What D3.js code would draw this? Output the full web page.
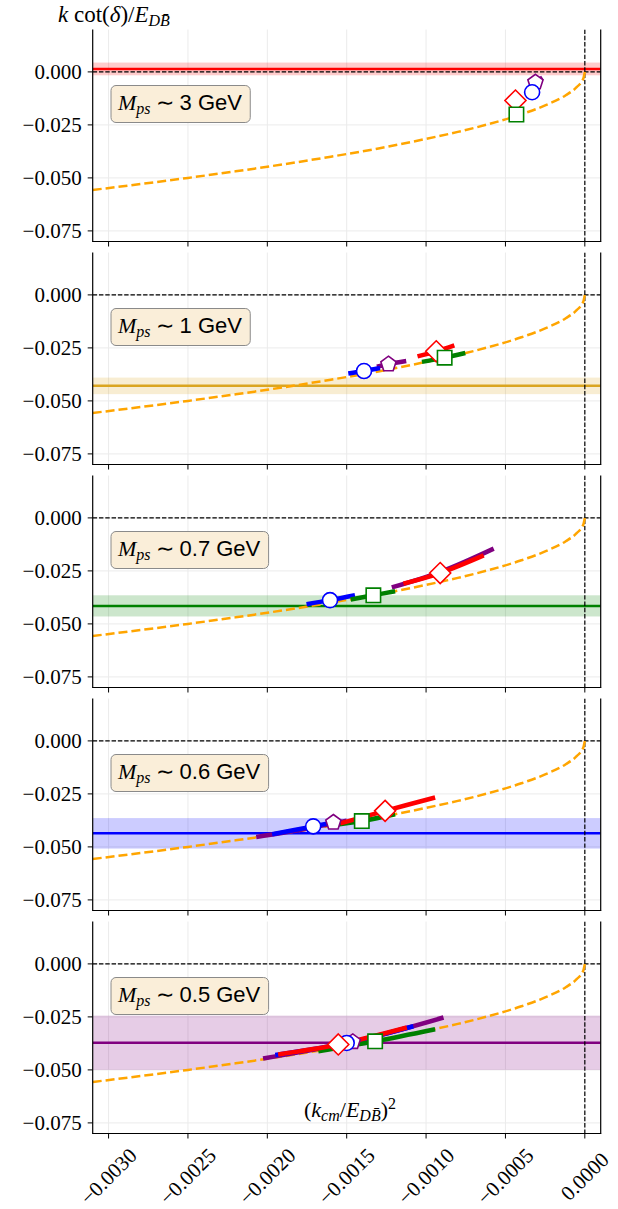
<!DOCTYPE html>
<html lang="en">
<head>
<meta charset="UTF-8">
<title>k cot(delta) vs k^2</title>
<script src="https://cdn.jsdelivr.net/npm/d3@7"></script>
<style>
  body { margin: 0; background: #fff; }
</style>
</head>
<body>
<svg width="618" height="1209"></svg>
<script>
// ---- data ----
var panelLabels = ["3 GeV", "1 GeV", "0.7 GeV", "0.6 GeV", "0.5 GeV"];
var bandColors = ["red", "goldenrod", "green", "blue", "purple"];
var bandCenters = [0.0014, -0.0429, -0.0415, -0.0436, -0.0372];
var bandHalfWidths = [0.003, 0.0039, 0.005, 0.0072, 0.0128];

var xTicks = [-0.003, -0.0025, -0.002, -0.0015, -0.001, -0.0005, 0];
var xTickLabels = ["\u22120.0030", "\u22120.0025", "\u22120.0020", "\u22120.0015", "\u22120.0010", "\u22120.0005", "0.0000"];
var yTicks = [0, -0.025, -0.05, -0.075];
var yTickLabels = ["0.000", "\u22120.025", "\u22120.050", "\u22120.075"];

// orange dashed curve (same in every panel)
var curveX = [-0.0031, -0.0028, -0.0025, -0.0022, -0.0019, -0.0016, -0.0013, -0.0010, -0.0008, -0.0006, -0.0004, -0.00025, -0.00012, -0.00005, -0.00001, 0];
var curveY = [-0.0557, -0.0529, -0.0500, -0.0469, -0.0436, -0.0400, -0.0361, -0.0316, -0.0283, -0.0245, -0.0200, -0.0158, -0.0110, -0.0071, -0.0032, 0];

// marker positions per panel (null = not visible)
var pentagonX = [-0.000311, -0.001237, null, -0.001584, -0.001462];
var pentagonY = [-0.0049, -0.0327, null, -0.0385, -0.0368];
var circleX = [-0.000332, -0.001391, -0.001605, -0.001711, -0.0015];
var circleY = [-0.0096, -0.0359, -0.0388, -0.0403, -0.0373];
var diamondX = [-0.000437, -0.000936, -0.000911, -0.001258, -0.001553];
var diamondY = [-0.0135, -0.0266, -0.026, -0.033, -0.038];
var squareX = [-0.000431, -0.000883, -0.001332, -0.001405, -0.001321];
var squareY = [-0.0201, -0.0296, -0.0365, -0.0378, -0.0365];

// thick fit segments per panel: [x, y] points
var purpleLines = [
  [[-0.00033, -0.0058], [-0.000311, -0.0049], [-0.000267, -0.0027]],
  [[-0.00131, -0.0339], [-0.001237, -0.0327], [-0.001125, -0.0312]],
  [[-0.001216, -0.0328], [-0.0009, -0.0252], [-0.000574, -0.0145]],
  [[-0.00207, -0.0453], [-0.00178, -0.0418], [-0.0015, -0.0376]],
  [[-0.002027, -0.0446], [-0.001462, -0.0368], [-0.00089, -0.0253]]
];
var blueLines = [
  [[-0.00035, -0.0104], [-0.000332, -0.0096], [-0.00031, -0.0087]],
  [[-0.00149, -0.0371], [-0.001391, -0.0359], [-0.00129, -0.0345]],
  [[-0.001753, -0.0407], [-0.001605, -0.0388], [-0.001448, -0.0365]],
  [[-0.00197, -0.0440], [-0.001711, -0.0403], [-0.00161, -0.0388]],
  [[-0.00195, -0.0430], [-0.0015, -0.0373], [-0.00108, -0.0294]]
];
var greenLines = [
  [[-0.00045, -0.0210], [-0.000431, -0.0201], [-0.00041, -0.0192]],
  [[-0.001026, -0.0316], [-0.000883, -0.0296], [-0.000753, -0.0274]],
  [[-0.001475, -0.0385], [-0.001332, -0.0365], [-0.001195, -0.0346]],
  [[-0.00161, -0.0400], [-0.001405, -0.0378], [-0.001195, -0.0346]],
  [[-0.001679, -0.0412], [-0.001321, -0.0365], [-0.000943, -0.0308]]
];
var redLines = [
  [[-0.00046, -0.0145], [-0.000437, -0.0135], [-0.00041, -0.0124]],
  [[-0.001054, -0.0290], [-0.000936, -0.0266], [-0.000822, -0.0238]],
  [[-0.001143, -0.0310], [-0.000911, -0.0260], [-0.000637, -0.0177]],
  [[-0.00154, -0.0389], [-0.001258, -0.0330], [-0.000943, -0.0267]],
  [[-0.001932, -0.0427], [-0.001553, -0.0380], [-0.001121, -0.0300]]
];

// ---- layout ----
var svg = d3.select("svg");
var left = 92.7, right = 600.7;
var panelTop = 29.5, panelH = 212, panelGap = 11;
var serif = "'Liberation Serif', 'Times New Roman', serif";
var sans = "'Liberation Sans', Arial, sans-serif";

var x = d3.scaleLinear().domain([-0.0031, 0.0001]).range([left, right]);

var lines = [
  {color: "purple", data: purpleLines},
  {color: "blue", data: blueLines},
  {color: "green", data: greenLines},
  {color: "red", data: redLines}
];
var markers = [
  {color: "purple", shape: "pentagon", xs: pentagonX, ys: pentagonY},
  {color: "blue", shape: "circle", xs: circleX, ys: circleY},
  {color: "red", shape: "diamond", xs: diamondX, ys: diamondY},
  {color: "green", shape: "square", xs: squareX, ys: squareY}
];

function markerPath(shape) {
  if (shape == "circle") return "M7.5,0A7.5,7.5 0 1,1 -7.5,0A7.5,7.5 0 1,1 7.5,0Z";
  if (shape == "square") return "M-7.2,-7.2H7.2V7.2H-7.2Z";
  if (shape == "diamond") return "M0,-10.5L10.5,0L0,10.5L-10.5,0Z";
  var pts = d3.range(5).map(function (i) {
    var a = -Math.PI / 2 + i * 2 * Math.PI / 5;
    return [8 * Math.cos(a), 8 * Math.sin(a)];
  });
  return "M" + pts.join("L") + "Z";
}

panelLabels.forEach(function (label, p) {
  var top = panelTop + p * (panelH + panelGap);
  var bottom = top + panelH;
  var y = d3.scaleLinear().domain([-0.08, 0.02]).range([bottom, top]);
  var g = svg.append("g");

  g.append("clipPath").attr("id", "clip" + p)
    .append("rect").attr("x", left).attr("y", top)
    .attr("width", right - left).attr("height", panelH);

  // grid
  g.selectAll(".vgrid").data(xTicks).enter().append("line")
    .attr("x1", function (d) { return x(d); }).attr("x2", function (d) { return x(d); })
    .attr("y1", top).attr("y2", bottom)
    .attr("stroke", "#ebebeb").attr("stroke-width", 1);
  g.selectAll(".hgrid").data(yTicks).enter().append("line")
    .attr("x1", left).attr("x2", right)
    .attr("y1", function (d) { return y(d); }).attr("y2", function (d) { return y(d); })
    .attr("stroke", "#ebebeb").attr("stroke-width", 1);

  var plot = g.append("g").attr("clip-path", "url(#clip" + p + ")");

  // band + central value
  plot.append("rect")
    .attr("x", left).attr("width", right - left)
    .attr("y", y(bandCenters[p] + bandHalfWidths[p]))
    .attr("height", y(bandCenters[p] - bandHalfWidths[p]) - y(bandCenters[p] + bandHalfWidths[p]))
    .attr("fill", bandColors[p]).attr("fill-opacity", 0.2);
  plot.append("line")
    .attr("x1", left).attr("x2", right)
    .attr("y1", y(bandCenters[p])).attr("y2", y(bandCenters[p]))
    .attr("stroke", bandColors[p]).attr("stroke-width", 2.5);

  // zero lines
  plot.append("line")
    .attr("x1", left).attr("x2", right).attr("y1", y(0)).attr("y2", y(0))
    .attr("stroke", "black").attr("stroke-width", 1.2).attr("stroke-dasharray", "4.4,1.9");
  plot.append("line")
    .attr("x1", x(0)).attr("x2", x(0)).attr("y1", top).attr("y2", bottom)
    .attr("stroke", "black").attr("stroke-width", 1.2).attr("stroke-dasharray", "4.4,1.9");

  // orange curve
  var curve = d3.line()
    .x(function (d) { return x(d[0]); })
    .y(function (d) { return y(d[1]); })
    .curve(d3.curveMonotoneX);
  plot.append("path")
    .attr("d", curve(d3.zip(curveX, curveY)))
    .attr("fill", "none").attr("stroke", "orange").attr("stroke-width", 2.5)
    .attr("stroke-dasharray", "9,4");

  // fit segments
  var seg = d3.line()
    .x(function (d) { return x(d[0]); })
    .y(function (d) { return y(d[1]); })
    .curve(d3.curveCatmullRom);
  lines.forEach(function (s) {
    plot.append("path")
      .attr("d", seg(s.data[p]))
      .attr("fill", "none").attr("stroke", s.color).attr("stroke-width", 4.5);
  });

  // markers
  markers.forEach(function (m) {
    if (m.xs[p] == null) return;
    plot.append("path")
      .attr("d", markerPath(m.shape))
      .attr("transform", "translate(" + x(m.xs[p]) + "," + y(m.ys[p]) + ")")
      .attr("fill", "white").attr("stroke", m.color).attr("stroke-width", 1.6);
  });

  // spines
  g.append("line").attr("x1", left).attr("x2", left).attr("y1", top).attr("y2", bottom)
    .attr("stroke", "black").attr("stroke-width", 1.2);
  g.append("line").attr("x1", right).attr("x2", right).attr("y1", top).attr("y2", bottom)
    .attr("stroke", "black").attr("stroke-width", 1.2);
  g.append("line").attr("x1", left - 0.6).attr("x2", right + 0.6).attr("y1", bottom).attr("y2", bottom)
    .attr("stroke", "black").attr("stroke-width", 1.2);

  // ticks
  g.selectAll(".xt").data(xTicks).enter().append("line")
    .attr("x1", function (d) { return x(d); }).attr("x2", function (d) { return x(d); })
    .attr("y1", bottom).attr("y2", bottom + 5)
    .attr("stroke", "black").attr("stroke-width", 1);
  g.selectAll(".yt").data(yTicks).enter().append("line")
    .attr("x1", left - 5).attr("x2", left)
    .attr("y1", function (d) { return y(d); }).attr("y2", function (d) { return y(d); })
    .attr("stroke", "black").attr("stroke-width", 1);
  g.selectAll(".yl").data(yTicks).enter().append("text")
    .attr("x", left - 11).attr("y", function (d) { return y(d); })
    .attr("dy", "0.33em")
    .attr("text-anchor", "end")
    .attr("font-family", serif).attr("font-size", 21)
    .text(function (d, i) { return yTickLabels[i]; });

  // mass label box
  var lg = g.append("g");
  var txt = lg.append("text")
    .attr("x", 118).attr("y", top + 80)
    .attr("font-size", 22);
  txt.append("tspan").attr("font-family", serif).attr("font-style", "italic").text("M");
  txt.append("tspan").attr("font-family", serif).attr("font-style", "italic")
    .attr("font-size", 16).attr("dy", 4).text("ps");
  txt.append("tspan").attr("font-family", serif).attr("dy", -4).text(" \u223C ");
  txt.append("tspan").attr("font-family", sans).attr("font-size", 22).text(label);
  var bb = txt.node().getBBox();
  lg.insert("rect", "text")
    .attr("x", 111).attr("y", top + 56)
    .attr("width", bb.x + bb.width - 111 + 8).attr("height", 37)
    .attr("rx", 5).attr("ry", 5)
    .attr("fill", "#faeed9").attr("stroke", "#8a8a8a").attr("stroke-width", 1);

  if (p == panelLabels.length - 1) {
    svg.selectAll(".xl").data(xTicks).enter().append("text")
      .attr("transform", function (d) { return "translate(" + x(d) + "," + (bottom + 43) + ") rotate(-45)"; })
      .attr("text-anchor", "middle")
      .attr("dy", "0.33em")
      .attr("font-family", serif).attr("font-size", 21)
      .text(function (d, i) { return xTickLabels[i]; });

    var xl = svg.append("text")
      .attr("x", 350).attr("y", bottom - 17)
      .attr("text-anchor", "middle")
      .attr("font-family", serif).attr("font-size", 22);
    xl.append("tspan").text("(");
    xl.append("tspan").attr("font-style", "italic").text("k");
    xl.append("tspan").attr("font-style", "italic").attr("font-size", 16).attr("dy", 4).text("cm");
    xl.append("tspan").attr("dy", -4).text("/");
    xl.append("tspan").attr("font-style", "italic").text("E");
    xl.append("tspan").attr("font-style", "italic").attr("font-size", 16).attr("dy", 4).text("DB\u0304");
    xl.append("tspan").attr("dy", -4).text(")");
    xl.append("tspan").attr("font-size", 16).attr("dy", -8).text("2");
  }
});

// y axis label
var yl = svg.append("text")
  .attr("x", 58).attr("y", 22)
  .attr("font-family", serif).attr("font-size", 23);
yl.append("tspan").attr("font-style", "italic").text("k");
yl.append("tspan").text(" cot(");
yl.append("tspan").attr("font-style", "italic").text("\u03B4");
yl.append("tspan").text(")/");
yl.append("tspan").attr("font-style", "italic").text("E");
yl.append("tspan").attr("font-style", "italic").attr("font-size", 16).attr("dy", 4).text("DB\u0304");
</script>
</body>
</html>
